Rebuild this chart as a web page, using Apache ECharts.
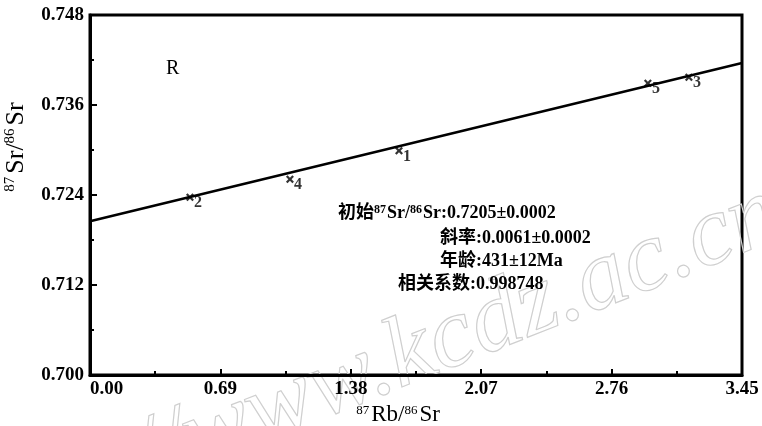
<!DOCTYPE html>
<html><head><meta charset="utf-8">
<script src="https://cdn.jsdelivr.net/npm/echarts@6/dist/echarts.min.js"></script>
<style>html,body{margin:0;padding:0;background:#fff}#c{width:762px;height:426px}</style>
</head><body><div id="c"></div>
<script>
// Data
const sampleLabels = ['1', '2', '3', '4', '5'];
const sampleX = [1.635, 0.529, 3.169, 1.058, 2.952];
const sampleY = [0.7299, 0.7237, 0.7397, 0.7261, 0.7389];
const isochronX = [0, 3.45];
const isochronY = [0.7205, 0.7416];
const xTicks = [0.00, 0.69, 1.38, 2.07, 2.76, 3.45];
const yTicks = [0.700, 0.712, 0.724, 0.736, 0.748];
const statLines = [
  '初始{sup|87}Sr/{sup|86}Sr:0.7205±0.0002',
  '斜率:0.0061±0.0002',
  '年龄:431±12Ma',
  '相关系数:0.998748'
];

const serif = '"Liberation Serif","DejaVu Serif",serif';
const mixed = '"Liberation Serif","Noto Sans CJK SC",serif';
const chart = echarts.init(document.getElementById('c'));
const xMark = 'path://M0,2 L2,0 L5,3 L8,0 L10,2 L7,5 L10,8 L8,10 L5,7 L2,10 L0,8 L3,5 Z';

const statPos = [[338, 204], [440, 229], [440, 252], [398, 275]];
const supRich = {
  sup: {fontSize: 12, fontFamily: mixed, fontWeight: 'bold', verticalAlign: 'top', padding: [0, 1, 7, 0]},
};
const titleRich = {
  sup: {fontSize: 13, fontFamily: serif, verticalAlign: 'top', padding: [0, 2, 10, 0], color: '#000'},
  b: {fontSize: 23, fontFamily: serif, color: '#000'}
};
const ytitleRich = {
  sup: {fontSize: 15, fontFamily: serif, verticalAlign: 'top', padding: [0, 3, 11, 0], color: '#000'},
  b: {fontSize: 26, fontFamily: serif, color: '#000'}
};
const wmStyle = (t, align) => ({
  text: t, font: 'italic 100px ' + serif, fill: 'rgba(0,0,0,0)', stroke: '#cfcfcf', lineWidth: 1.2,
  align: align, verticalAlign: 'bottom'
});

option = {
  animation: false,
  backgroundColor: '#fff',
  grid: {left: 90, right: 20, top: 15, bottom: 51, show: true, borderColor: '#000', borderWidth: 3,
    outerBoundsMode: 'none', containLabel: false},
  xAxis: {
    type: 'value', min: xTicks[0], max: xTicks[xTicks.length - 1], interval: 0.69,
    axisLine: {onZero: false, lineStyle: {color: '#000', width: 3}},
    axisTick: {inside: true, length: 6, lineStyle: {width: 2}},
    minorTick: {show: true, splitNumber: 2, length: 4, lineStyle: {color: '#000', width: 2}},
    splitLine: {show: false},
    axisLabel: {color: '#000', fontFamily: serif, fontWeight: 'bold', fontSize: 19, margin: 5,
      alignMinLabel: 'left', formatter: v => v.toFixed(2)},
    name: '{sup|87}{b|Rb/}{sup|86}{b|Sr}', nameLocation: 'middle', nameGap: 28,
    nameTextStyle: {rich: titleRich, padding: [0, 36, 0, 0]}
  },
  yAxis: {
    type: 'value', min: yTicks[0], max: yTicks[yTicks.length - 1], interval: 0.012,
    axisLine: {onZero: false, lineStyle: {color: '#000', width: 3}},
    axisTick: {inside: true, length: 7, lineStyle: {width: 2}},
    minorTick: {show: true, splitNumber: 2, length: 4, lineStyle: {color: '#000', width: 2}},
    splitLine: {show: false},
    axisLabel: {color: '#000', fontFamily: serif, fontWeight: 'bold', fontSize: 19, margin: 6,
      formatter: v => v.toFixed(3)},
    name: '{sup|87}{b|Sr/}{sup|86}{b|Sr}', nameLocation: 'middle', nameGap: 61, nameRotate: 90,
    nameTextStyle: {rich: ytitleRich, padding: [0, 0, 0, 96]}
  },
  series: [
    {
      type: 'line', data: isochronX.map((x, i) => [x, isochronY[i]]),
      symbol: 'none', lineStyle: {color: '#000', width: 2.5}, z: 2
    },
    {
      type: 'scatter', data: sampleX.map((x, i) => ({value: [x, sampleY[i]], name: sampleLabels[i]})),
      symbol: xMark, symbolSize: 8, itemStyle: {color: '#000'}, z: 3,
      label: {show: true, formatter: p => p.name, position: [8, 2], color: '#000',
        fontFamily: serif, fontWeight: 'bold', fontSize: 16}
    }
  ],
  graphic: [
    {type: 'text', left: 166, top: 59, style: {text: 'R', font: '20px ' + serif, fill: '#000'}},
    {type: 'text', x: 408, y: 410, rotation: 0.375, scaleX: 1.0, z: 0, silent: true,
      style: wmStyle('http://www.', 'right')},
    {type: 'text', x: 408, y: 410, rotation: 0.375, scaleX: 1.0, z: 0, silent: true,
      style: wmStyle('kcdz.ac.cn', 'left')},
  ].concat(statLines.map((t, i) => ({
    type: 'text', left: statPos[i][0], top: statPos[i][1], z: 10,
    style: {text: t, font: 'bold 18px ' + mixed, fill: '#000', rich: supRich}
  })))
};
chart.setOption(option);
</script></body></html>
